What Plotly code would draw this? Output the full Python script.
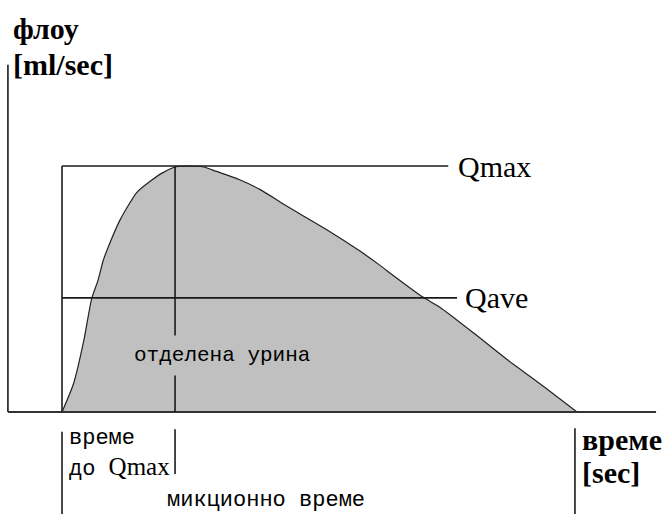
import plotly.graph_objects as go

# ---- data ----
time_s = [0, 0.45, 0.85, 1.15, 1.4, 1.6, 1.8, 2.25, 2.9, 3.4, 3.9, 4.4, 4.95, 5.5,
          6.0, 6.9, 7.7, 8.5, 9.0, 10.3, 11.6, 12.35, 12.85, 14.0, 14.7, 16.0,
          17.3, 18.55, 20.0]
flow_mls = [0, 2.9, 7.3, 11.5, 13.4, 15.4, 16.8, 19.5, 22.3, 23.4, 24.3, 24.9, 25.0, 24.9,
            24.45, 23.6, 22.6, 21.3, 20.5, 18.5, 16.3, 14.9, 13.9, 11.7, 10.6,
            8.0, 5.3, 2.9, 0]
q_max = 25.0
q_ave = 11.6
t_start = 0.0
t_qmax = 4.39
t_end = 20.0
qmax_line_end = 15.0
qave_line_end = 15.34
label_qmax = "Qmax"
label_qave = "Qave"

# ---- layout ----
W, H = 666, 514
X_RANGE = [-2.408, 23.456]
Y_RANGE = [-10.366, 41.87]
AXIS_X0 = -2.10
AXIS_X1 = 23.07
AXIS_Y1 = 35.3
BELOW_TOP_START = -2.0
BELOW_TOP_QMAX = -1.75
BELOW_BOTTOM_QMAX = -6.3
BELOW_TOP_END = -1.65

def px_x(p):
    return p / W

def px_y(p):
    return 1 - p / H

LINE = dict(color="#1a1a1a", width=1.6)
SERIF = "Liberation Serif, Times New Roman, serif"
MONO = "Liberation Mono, Courier New, monospace"

fig = go.Figure()
fig.add_trace(go.Scatter(
    x=time_s, y=flow_mls, mode="lines", fill="tozeroy",
    fillcolor="#c0c0c0", line=dict(color="#222222", width=1.2, shape="spline", smoothing=0.6),
    hoverinfo="skip", showlegend=False,
))

shapes = [
    dict(type="line", x0=AXIS_X0, x1=AXIS_X0, y0=0, y1=AXIS_Y1, line=LINE),
    dict(type="line", x0=AXIS_X0, x1=AXIS_X1, y0=0, y1=0, line=dict(color="#333333", width=2)),
    dict(type="line", x0=t_start, x1=t_start, y0=0, y1=q_max, line=LINE),
    dict(type="line", x0=t_start, x1=qmax_line_end, y0=q_max, y1=q_max, line=LINE),
    dict(type="line", x0=t_start, x1=qave_line_end, y0=q_ave, y1=q_ave, line=LINE),
    dict(type="line", x0=t_qmax, x1=t_qmax, y0=0, y1=q_max, line=LINE),
    dict(type="line", x0=t_start, x1=t_start, y0=BELOW_TOP_START, y1=Y_RANGE[0], line=LINE),
    dict(type="line", x0=t_qmax, x1=t_qmax, y0=BELOW_TOP_QMAX, y1=BELOW_BOTTOM_QMAX, line=LINE),
    dict(type="line", x0=t_end - 0.08, x1=t_end - 0.08, y0=BELOW_TOP_END, y1=Y_RANGE[0], line=LINE),
]
for s in shapes:
    s.update(xref="x", yref="y", layer="above")

ann = []
def paper_ann(text, x, y, font, xanchor="left", **kw):
    d = dict(text=text, xref="paper", yref="paper", x=px_x(x), y=px_y(y),
             xanchor=xanchor, yanchor="middle", showarrow=False, font=font)
    d.update(kw)
    ann.append(d)

big_bold = dict(family=SERIF, size=30, color="black")
big = dict(family=SERIF, size=30, color="black")
small = dict(family=MONO, size=22, color="black")

paper_ann("<b>флоу</b>", 11, 28, big_bold)
paper_ann("<b>[ml/sec]</b>", 11, 64, big_bold)
ann.append(dict(text=label_qmax, x=qmax_line_end, y=q_max, xref="x", yref="y",
                xanchor="left", yanchor="middle", xshift=8, showarrow=False, font=big))
ann.append(dict(text=label_qave, x=qave_line_end, y=q_ave, xref="x", yref="y",
                xanchor="left", yanchor="middle", xshift=6, showarrow=False, font=big))
paper_ann("отделена урина", 222, 355, dict(family=MONO, size=21, color="black"),
          xanchor="center", bgcolor="#c0c0c0", borderpad=8)
paper_ann("време", 67, 438, small)
paper_ann("до <span style=\"font-family:'Liberation Serif';font-size:25px\">" + label_qmax + "</span>",
          67, 467, small)
paper_ann("микционно време", 266, 500, small, xanchor="center")
paper_ann("<b>време</b>", 580, 439, big_bold)
paper_ann("<b>[sec]</b>", 580, 472, big_bold)

fig.update_layout(
    width=W, height=H,
    margin=dict(l=0, r=0, t=0, b=0),
    paper_bgcolor="white", plot_bgcolor="white",
    xaxis=dict(range=X_RANGE, visible=False, fixedrange=True),
    yaxis=dict(range=Y_RANGE, visible=False, fixedrange=True),
    shapes=shapes, annotations=ann,
)

fig.write_html(
    "out.html",
    config={"displayModeBar": False},
    post_script="document.body.style.margin='0';document.body.style.overflow='hidden';",
)
